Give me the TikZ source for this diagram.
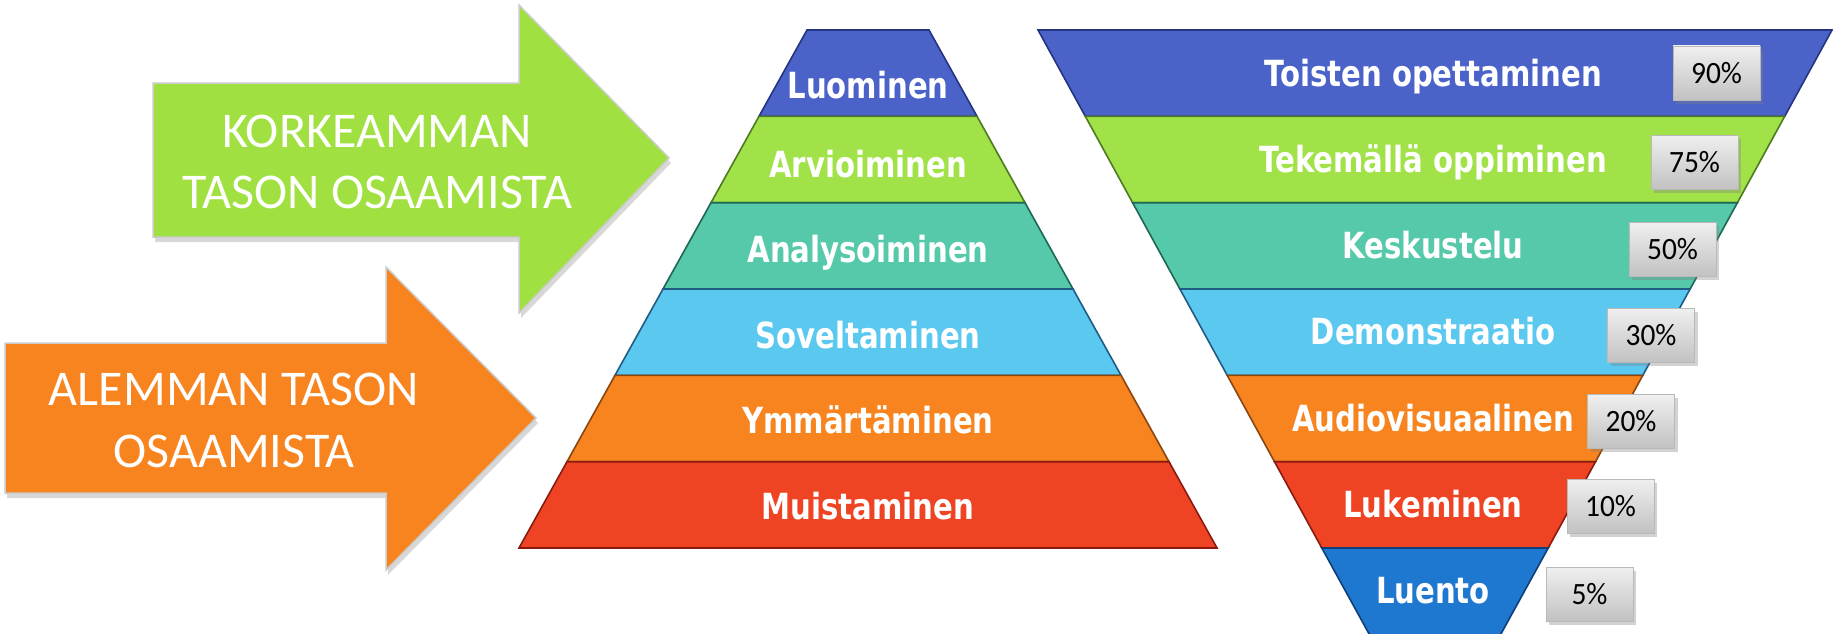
\documentclass[tikz,border=0pt]{standalone}
\usepackage{fontspec}
\usetikzlibrary{shadows}
\newfontfamily\bandfont[FakeStretch=0.81]{DejaVu Sans}
\newfontfamily\arrowfont{Carlito}
\newfontfamily\pctfont[FakeStretch=0.95]{Carlito}
\definecolor{cBlue}{HTML}{4B62C8}
\definecolor{cBlueD}{HTML}{243480}
\definecolor{cGreen}{HTML}{A0E247}
\definecolor{cGreenD}{HTML}{4E7A22}
\definecolor{cTeal}{HTML}{55C9AA}
\definecolor{cTealD}{HTML}{1E6656}
\definecolor{cSky}{HTML}{5BC8F0}
\definecolor{cSkyD}{HTML}{1F5C84}
\definecolor{cOrange}{HTML}{F8841F}
\definecolor{cOrangeD}{HTML}{8A4510}
\definecolor{cRed}{HTML}{EF4424}
\definecolor{cRedD}{HTML}{8A1A10}
\definecolor{cAzure}{HTML}{1F78D0}
\definecolor{cAzureD}{HTML}{103E78}
\definecolor{cArrG}{HTML}{A0E040}
\definecolor{cArrO}{HTML}{F7841E}
\begin{document}
\begin{tikzpicture}[x=1pt,y=-1pt,
  band/.style={line width=1.6pt, line join=miter},
  blabel/.style={text=white, inner sep=0, anchor=base,
    font=\bandfont\bfseries\fontsize{36}{36}\selectfont},
  pctbox/.style={minimum width=87pt, minimum height=54pt, inner sep=0,
    top color=gray!12, bottom color=gray!48, draw=gray!55, line width=0.6pt,
    drop shadow={shadow xshift=3pt, shadow yshift=-4pt, opacity=0.35},
    font=\pctfont\fontsize{31}{31}\selectfont, text=black},
  arrowtext/.style={text=white, inner sep=0, anchor=base,
    font=\arrowfont\fontsize{50}{50}\selectfont},
  bigarrow/.style={draw=gray!40, line width=1.5pt, line join=miter,
    drop shadow={shadow xshift=2pt, shadow yshift=-5pt, opacity=0.3}}]
\useasboundingbox[fill=white] (0,0) rectangle (1833,634);

% ---- arrows ----
\path[bigarrow, fill=cArrG] (153,83) -- (519,83) -- (519,5) -- (669,158)
  -- (519,313) -- (519,237) -- (153,237) -- cycle;
\node[arrowtext] (gA) at (377,147) {KORKEAMMAN};
\node[arrowtext] (gB) at (377,208) {TASON OSAAMISTA};

\path[bigarrow, fill=cArrO] (5,343) -- (386,343) -- (386,267) -- (536,418)
  -- (386,570) -- (386,493) -- (5,493) -- cycle;
\node[arrowtext] (oA) at (234,405) {ALEMMAN TASON};
\node[arrowtext] (oB) at (234,467) {OSAAMISTA};

% ---- pyramid (cx = 868) ----
\filldraw[band, fill=cBlue, draw=cBlueD]     (807,30) -- (929,30) -- (977,116.3) -- (759,116.3) -- cycle;
\filldraw[band, fill=cGreen, draw=cGreenD]   (759,116.3) -- (977,116.3) -- (1025,202.7) -- (711,202.7) -- cycle;
\filldraw[band, fill=cTeal, draw=cTealD]     (711,202.7) -- (1025,202.7) -- (1073,289) -- (663,289) -- cycle;
\filldraw[band, fill=cSky, draw=cSkyD]       (663,289) -- (1073,289) -- (1121,375.3) -- (615,375.3) -- cycle;
\filldraw[band, fill=cOrange, draw=cOrangeD] (615,375.3) -- (1121,375.3) -- (1169,461.7) -- (567,461.7) -- cycle;
\filldraw[band, fill=cRed, draw=cRedD]       (567,461.7) -- (1169,461.7) -- (1217,548) -- (519,548) -- cycle;

\node[blabel] (p1) at (868,99)  {Luominen};
\node[blabel] (p2) at (868,177) {Arvioiminen};
\node[blabel] (p3) at (868,262) {Analysoiminen};
\node[blabel] (p4) at (868,348) {Soveltaminen};
\node[blabel] (p5) at (868,433) {Ymmärtäminen};
\node[blabel] (p6) at (868,519) {Muistaminen};

% ---- inverted pyramid (cx = 1435) ----
\filldraw[band, fill=cBlue, draw=cBlueD]     (1038,30) -- (1832,30) -- (1784.7,116.3) -- (1085.3,116.3) -- cycle;
\filldraw[band, fill=cGreen, draw=cGreenD]   (1085.3,116.3) -- (1784.7,116.3) -- (1737.4,202.7) -- (1132.6,202.7) -- cycle;
\filldraw[band, fill=cTeal, draw=cTealD]     (1132.6,202.7) -- (1737.4,202.7) -- (1690.1,289) -- (1179.9,289) -- cycle;
\filldraw[band, fill=cSky, draw=cSkyD]       (1179.9,289) -- (1690.1,289) -- (1642.8,375.3) -- (1227.2,375.3) -- cycle;
\filldraw[band, fill=cOrange, draw=cOrangeD] (1227.2,375.3) -- (1642.8,375.3) -- (1595.5,461.7) -- (1274.5,461.7) -- cycle;
\filldraw[band, fill=cRed, draw=cRedD]       (1274.5,461.7) -- (1595.5,461.7) -- (1548.2,548) -- (1321.8,548) -- cycle;
\filldraw[band, fill=cAzure, draw=cAzureD]   (1321.8,548) -- (1548.2,548) -- (1499.8,636) -- (1370.2,636) -- cycle;

\node[blabel] (q1) at (1433,86)  {Toisten opettaminen};
\node[blabel] (q2) at (1433,172) {Tekemällä oppiminen};
\node[blabel] (q3) at (1433,258) {Keskustelu};
\node[blabel] (q4) at (1433,344) {Demonstraatio};
\node[blabel] (q5) at (1433,431) {Audiovisuaalinen};
\node[blabel] (q6) at (1433,517) {Lukeminen};
\node[blabel] (q7) at (1433,603) {Luento};

% ---- percentage boxes ----
\node[pctbox] (r1) at (1716.5,73)  {90\%};
\node[pctbox] (r2) at (1694.5,162) {75\%};
\node[pctbox] (r3) at (1672.5,249) {50\%};
\node[pctbox] (r4) at (1651,335)   {30\%};
\node[pctbox] (r5) at (1631,421)   {20\%};
\node[pctbox] (r6) at (1610.5,506) {10\%};
\node[pctbox] (r7) at (1589.5,594) {5\%};
\end{tikzpicture}
\end{document}
